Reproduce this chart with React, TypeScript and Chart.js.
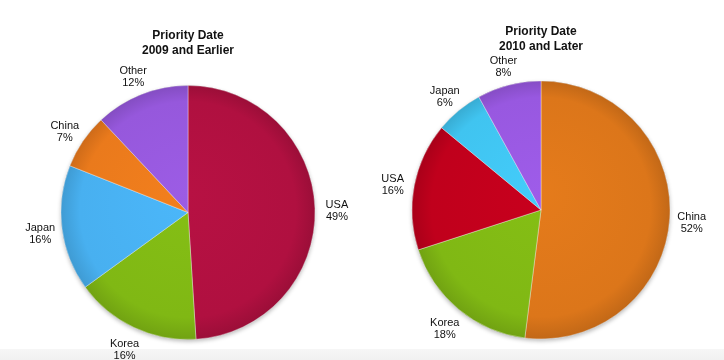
import React, { useEffect, useRef } from "react";
import { Chart, registerables } from "chart.js";

Chart.register(...registerables);

const leftTitle = ["Priority Date", "2009 and Earlier"];
const leftCategories = ["USA", "Korea", "Japan", "China", "Other"];
const leftValues = [49, 16, 16, 7, 12];
const leftColors = ["#b01040", "#80b814", "#48b0f0", "#ea7a1c", "#9658dc"];

const rightTitle = ["Priority Date", "2010 and Later"];
const rightCategories = ["China", "Korea", "USA", "Japan", "Other"];
const rightValues = [52, 18, 16, 6, 8];
const rightColors = ["#dc761a", "#80b814", "#c0001c", "#40c4f0", "#9858e0"];

const FONT = "'Liberation Sans', Arial, Helvetica, sans-serif";

function shade(hex: string, f: number) {
  const n = parseInt(hex.slice(1), 16);
  const r = Math.round(((n >> 16) & 255) * f);
  const g = Math.round(((n >> 8) & 255) * f);
  const b = Math.round((n & 255) * f);
  return `rgb(${Math.min(255, r)},${Math.min(255, g)},${Math.min(255, b)})`;
}

const shadowPlugin = {
  id: "pieShadow",
  beforeDatasetsDraw(chart: any) {
    const meta = chart.getDatasetMeta(0);
    const arc = meta.data[0];
    if (!arc) return;
    const { x, y, outerRadius } = arc.getProps(["x", "y", "outerRadius"], true);
    const ctx = chart.ctx;
    ctx.save();
    ctx.shadowColor = "rgba(0,0,0,0.28)";
    ctx.shadowBlur = 4;
    ctx.shadowOffsetY = 2;
    ctx.beginPath();
    ctx.arc(x, y, outerRadius, 0, Math.PI * 2);
    ctx.fillStyle = "#999";
    ctx.fill();
    ctx.restore();
  },
};

const labelPlugin = {
  id: "outerLabels",
  afterDatasetsDraw(chart: any) {
    const ctx = chart.ctx;
    const meta = chart.getDatasetMeta(0);
    const labels = chart.data.labels as string[];
    const values = chart.data.datasets[0].data as number[];
    ctx.save();
    ctx.font = `11px ${FONT}`;
    ctx.fillStyle = "#111";
    ctx.textAlign = "center";
    ctx.textBaseline = "middle";
    meta.data.forEach((el: any, i: number) => {
      const p = el.getProps(["x", "y", "startAngle", "endAngle", "outerRadius"], true);
      const mid = (p.startAngle + p.endAngle) / 2;
      const d = p.outerRadius + 22;
      const lx = p.x + Math.cos(mid) * d;
      const ly = p.y + Math.sin(mid) * d + 3;
      ctx.fillText(labels[i], lx, ly - 6);
      ctx.fillText(`${values[i]}%`, lx, ly + 6);
    });
    ctx.restore();
  },
};

type PieProps = {
  title: string[];
  categories: string[];
  values: number[];
  colors: string[];
  radius: number;
  padding: { left: number; right: number; top: number; bottom: number };
  titlePadding: { top: number; bottom: number };
};

function PieChart(props: PieProps) {
  const ref = useRef<HTMLCanvasElement | null>(null);
  useEffect(() => {
    if (!ref.current) return;
    const chart = new Chart(ref.current, {
      type: "pie",
      data: {
        labels: props.categories,
        datasets: [
          {
            data: props.values,
            radius: props.radius,
            backgroundColor: (c: any) => {
              const base = props.colors[c.dataIndex];
              const area = c.chart.chartArea;
              if (!area) return base;
              const cx = (area.left + area.right) / 2;
              const cy = (area.top + area.bottom) / 2;
              const g = c.chart.ctx.createRadialGradient(cx, cy - 20, 0, cx, cy, props.radius);
              g.addColorStop(0, shade(base, 1.04));
              g.addColorStop(0.85, base);
              g.addColorStop(1, shade(base, 0.88));
              return g;
            },
            borderColor: "rgba(255,255,255,0.35)",
            borderWidth: 1,
          } as any,
        ],
      },
      options: {
        animation: false,
        responsive: false,
        layout: { padding: props.padding },
        plugins: {
          legend: { display: false },
          tooltip: { enabled: false },
          title: {
            display: true,
            text: props.title,
            color: "#111",
            font: { family: FONT, size: 12, weight: "bold", lineHeight: 1.25 },
            padding: props.titlePadding,
          },
        },
      },
      plugins: [shadowPlugin, labelPlugin],
    });
    return () => chart.destroy();
  }, []);
  return <canvas ref={ref} width={362} height={360} style={{ display: "block" }} />;
}

export default function App() {
  return (
    <div
      style={{
        position: "fixed",
        left: 0,
        top: 0,
        width: 724,
        height: 360,
        background: "#ffffff",
        overflow: "hidden",
      }}
    >
      <div
        style={{
          position: "absolute",
          left: 0,
          top: 349,
          width: 724,
          height: 11,
          background: "linear-gradient(#f6f6f6, #f1f1f1)",
        }}
      />
      <div style={{ position: "absolute", left: 0, top: 0 }}>
        <PieChart
          title={leftTitle}
          categories={leftCategories}
          values={leftValues}
          colors={leftColors}
          radius={127}
          padding={{ left: 61, right: 47, top: 0, bottom: 20.5 }}
          titlePadding={{ top: 28.5, bottom: 27 }}
        />
      </div>
      <div style={{ position: "absolute", left: 362, top: 0 }}>
        <PieChart
          title={rightTitle}
          categories={rightCategories}
          values={rightValues}
          colors={rightColors}
          radius={129}
          padding={{ left: 50, right: 54, top: 0, bottom: 21 }}
          titlePadding={{ top: 24.5, bottom: 26.5 }}
        />
      </div>
    </div>
  );
}
